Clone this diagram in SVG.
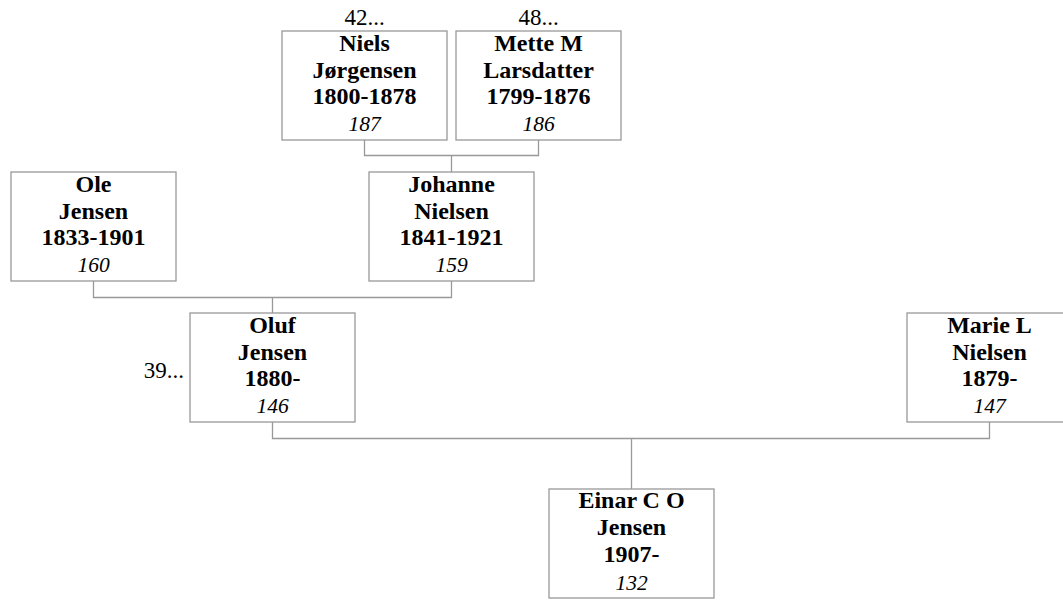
<svg xmlns="http://www.w3.org/2000/svg" width="1063" height="600" viewBox="0 0 1063 600">
<style>
.box{fill:#fff;stroke:#999;stroke-width:1.3}
.conn{fill:none;stroke:#999;stroke-width:1.3}
.n{font-family:"Liberation Serif","Times New Roman",serif;font-weight:bold;font-size:24px;fill:#000;text-anchor:middle}
.id{font-family:"Liberation Serif","Times New Roman",serif;font-style:italic;font-size:21.5px;fill:#000;text-anchor:middle}
.m{font-family:"Liberation Serif","Times New Roman",serif;font-size:23px;fill:#000}
</style>
<rect width="1063" height="600" fill="#fff"/>
<g id="connectors">
<path class="conn" d="M364.5,140 V155.5 H538.5 V140 M451.5,155.5 V172"/>
<path class="conn" d="M93.5,281 V297.5 H451.5 V281 M272.5,297.5 V313"/>
<path class="conn" d="M272.5,422 V438.5 H989.5 V422 M631.5,438.5 V489"/>
</g>
<g id="niels">
<rect class="box" x="282" y="31" width="165" height="109"/>
<text class="m" x="364.5" y="25" text-anchor="middle">42...</text>
<text class="n" x="364.5" y="51">Niels</text>
<text class="n" x="364.5" y="77.5">Jørgensen</text>
<text class="n" x="364.5" y="104">1800-1878</text>
<text class="id" x="364.5" y="131">187</text>
</g>
<g id="mette">
<rect class="box" x="456" y="31" width="165" height="109"/>
<text class="m" x="538.5" y="25" text-anchor="middle">48...</text>
<text class="n" x="538.5" y="51">Mette M</text>
<text class="n" x="538.5" y="77.5">Larsdatter</text>
<text class="n" x="538.5" y="104">1799-1876</text>
<text class="id" x="538.5" y="131">186</text>
</g>
<g id="ole">
<rect class="box" x="11" y="172" width="165" height="109"/>
<text class="n" x="93.5" y="192">Ole</text>
<text class="n" x="93.5" y="218.5">Jensen</text>
<text class="n" x="93.5" y="245">1833-1901</text>
<text class="id" x="93.5" y="272">160</text>
</g>
<g id="johanne">
<rect class="box" x="369" y="172" width="165" height="109"/>
<text class="n" x="451.5" y="192">Johanne</text>
<text class="n" x="451.5" y="218.5">Nielsen</text>
<text class="n" x="451.5" y="245">1841-1921</text>
<text class="id" x="451.5" y="272">159</text>
</g>
<g id="oluf">
<rect class="box" x="190" y="313" width="165" height="109"/>
<text class="m" x="184" y="378" text-anchor="end">39...</text>
<text class="n" x="272.5" y="333">Oluf</text>
<text class="n" x="272.5" y="359.5">Jensen</text>
<text class="n" x="272.5" y="386">1880-</text>
<text class="id" x="272.5" y="413">146</text>
</g>
<g id="marie">
<rect class="box" x="907" y="313" width="165" height="109"/>
<text class="n" x="989.5" y="333">Marie L</text>
<text class="n" x="989.5" y="359.5">Nielsen</text>
<text class="n" x="989.5" y="386">1879-</text>
<text class="id" x="989.5" y="413">147</text>
</g>
<g id="einar">
<rect class="box" x="549" y="489" width="165" height="109"/>
<text class="n" x="631.5" y="508">Einar C O</text>
<text class="n" x="631.5" y="535">Jensen</text>
<text class="n" x="631.5" y="562">1907-</text>
<text class="id" x="631.5" y="589.5">132</text>
</g>
</svg>
